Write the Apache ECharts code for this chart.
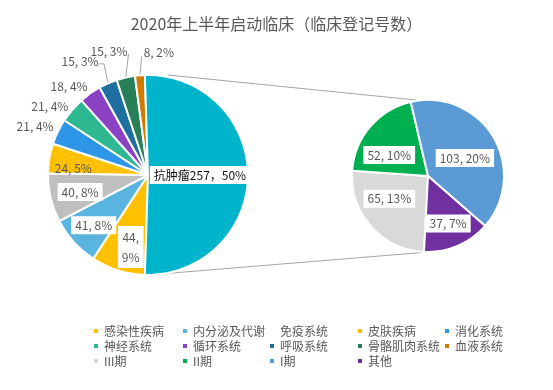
<!DOCTYPE html>
<html><head><meta charset="utf-8">
<script src="https://cdn.jsdelivr.net/npm/echarts@6/dist/echarts.min.js"></script>
<style>html,body{margin:0;padding:0;background:#fff}#c{width:553px;height:390px}</style>
</head><body><div id="c"></div>
<script>
// ---------- data ----------
const titleText = '2020年上半年启动临床（临床登记号数）';
const mainNames = ['感染性疾病','内分泌及代谢','免疫系统','皮肤疾病','消化系统','神经系统','循环系统','呼吸系统','骨骼肌肉系统','血液系统','抗肿瘤'];
const mainValues = [44, 41, 40, 24, 21, 21, 18, 15, 15, 8, 257];
const mainPct = ['9%','8%','8%','5%','4%','4%','4%','3%','3%','2%','50%'];
const subNames = ['III期','II期','I期','其他'];
const subValues = [65, 52, 103, 37];
const subPct = ['13%','10%','20%','7%'];

// ---------- styles ----------
const mainColors = ['#FFC000','#5AB4E0','#BFBFBF','#FFC000','#2E96E8','#2DB890','#8B42C2','#1E6FA0','#277F57','#CF7A00','#00B4CB'];
const subColors = ['#D9D9D9','#00B050','#5B9BD5','#7030A0'];
const FONT = '"Noto Sans CJK SC", "Noto Sans", sans-serif';
const TXT = '#595959';
const L = {cx:148, cy:175, r:100};
const R = {cx:428, cy:176, r:76};
// label placement: [radius factor, angle nudge in degrees]
const mainLab = [[0.74,4],[0.74,0.6],[0.70,0.8],[0.75,4.3],[1.23,2.3],[1.20,5.6],[1.19,6.2],[1.32,7.4],[1.30,4.6],[1.23,-9.7],[0.52,0]];
const mainBox = [true,true,true,false,false,false,false,false,false,false,true];
const subLab = [[0.59,-11],[0.58,12],[0.54,-5],[0.68,0]];
const subStart = 267;
const leaderIdx = [7,8,9];

function polar(c, r, deg){ const a = deg*Math.PI/180; return [c.cx + r*Math.cos(a), c.cy - r*Math.sin(a)]; }
function mids(values, start){
  const tot = values.reduce((a,b)=>a+b,0); let a = start; const out=[];
  values.forEach(v=>{ const s = v/tot*360; out.push(a - s/2); a -= s; });
  return out;
}
const mainTotal = mainValues.reduce((a,b)=>a+b,0);
const tealVal = mainValues[mainValues.length-1];
const mainStart = (mainTotal - tealVal/2)/mainTotal*360;
const mainMid = mids(mainValues, mainStart);
const subMid = mids(subValues, subStart);

const mainData = mainNames.map((n,i)=>{
  const d = {name:n, value:mainValues[i], itemStyle:{color:mainColors[i]},
    label:{formatter: i===mainNames.length-1 ? (n + mainValues[i] + '，' + mainPct[i]) : (i===0 ? mainValues[i]+',\n'+mainPct[i] : mainValues[i]+', '+mainPct[i])}};
  if (mainBox[i]) { d.label.backgroundColor = '#fff'; d.label.padding = [3,4]; }
  if (i===mainNames.length-1) { d.label.color = '#111'; }
  if (i===0) { d.label.lineHeight = 20; d.label.padding=[1,4]; }
  if (leaderIdx.indexOf(i)>=0) d.labelLine = {show:true};
  return d;
});
const subData = subNames.map((n,i)=>({name:n, value:subValues[i], itemStyle:{color:subColors[i]},
  label:{formatter: subValues[i]+', '+subPct[i], backgroundColor:'#fff', padding:[3,4]}}));

// legend columns (row-major, 5 columns)
const legendNames = mainNames.slice(0,10).concat(subNames);
const colLeft = [87, 176, 263, 351, 438];
const legends = colLeft.map((x,c)=>({
  orient:'vertical', left:x, top:320, itemWidth:6, itemHeight:6, itemGap:3, icon:'rect',
  selectedMode:false,
  textStyle:{color:TXT, fontSize:12, fontFamily:FONT},
  data: legendNames.filter((n,i)=>i%5===c).map(n=> n==='免疫系统' ? {name:n, itemStyle:{opacity:0}} : n)
}));

const chart = echarts.init(document.getElementById('c'));
chart.setOption({
  backgroundColor:'#fff',
  animation:false,
  title:{text:titleText, left:'center', top:11, textStyle:{color:TXT, fontSize:16, fontWeight:'normal', fontFamily:FONT}},
  legend: legends,
  graphic:[
    {type:'line', z:1, shape:{x1:L.cx+20, y1:L.cy-L.r, x2:R.cx-12, y2:R.cy-R.r}, style:{stroke:'#A6A6A6', lineWidth:1}},
    {type:'line', z:1, shape:{x1:L.cx, y1:L.cy+L.r, x2:R.cx, y2:R.cy+R.r}, style:{stroke:'#A6A6A6', lineWidth:1}}
  ],
  series:[
    {type:'pie', name:'main', center:[L.cx, L.cy], radius:[0, L.r], startAngle:mainStart, clockwise:true,
     avoidLabelOverlap:false, z:2,
     itemStyle:{borderColor:'#fff', borderWidth:2},
     label:{show:true, position:'outside', color:TXT, fontSize:12, fontFamily:FONT},
     labelLine:{show:false, lineStyle:{color:'#A6A6A6', width:1}},
     labelLayout:function(p){
       const i = p.dataIndex; const s = mainLab[i];
       const pt = polar(L, L.r*s[0], mainMid[i]+s[1]);
       const o = {x:pt[0], y:pt[1], align:'center', verticalAlign:'middle'};
       if (leaderIdx.indexOf(i)>=0) {
         const e = polar(L, L.r, mainMid[i]);
         const w = p.labelRect.width;
         if (i===7) o.labelLinePoints = [e, [e[0]-4, pt[1]+2], [pt[0]+w/2, pt[1]+2]];
         else if (i===8) o.labelLinePoints = [e, [pt[0]+w/2+1, pt[1]+3]];
         else o.labelLinePoints = [e, [pt[0]-w/2-2, pt[1]+4]];
       }
       return o;
     },
     data: mainData},
    {type:'pie', name:'sub', center:[R.cx, R.cy], radius:[0, R.r], startAngle:subStart, clockwise:true,
     avoidLabelOverlap:false, z:2,
     itemStyle:{borderColor:'#fff', borderWidth:2},
     label:{show:true, position:'inside', color:TXT, fontSize:12, fontFamily:FONT},
     labelLine:{show:false},
     labelLayout:function(p){
       const i = p.dataIndex; const s = subLab[i];
       const pt = polar(R, R.r*s[0], subMid[i]+s[1]);
       return {x:pt[0], y:pt[1], align:'center', verticalAlign:'middle'};
     },
     data: subData}
  ]
});
</script></body></html>
